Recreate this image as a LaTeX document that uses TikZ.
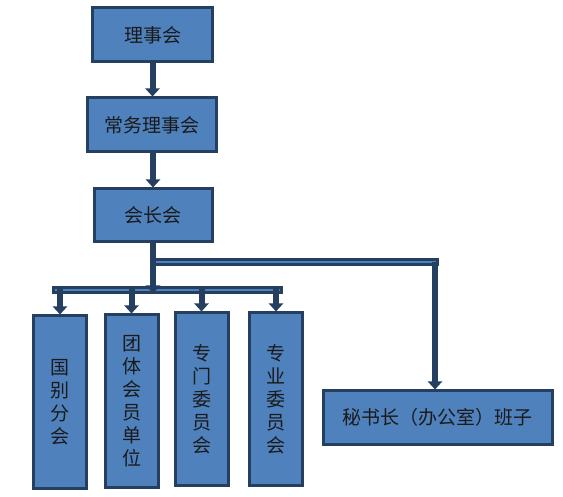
\documentclass[tikz,border=0pt]{standalone}
\usepackage{fontspec}
\newfontfamily\cjk{Noto Sans CJK SC}
\usetikzlibrary{arrows.meta}
\definecolor{boxfill}{HTML}{4F81BD}
\definecolor{boxline}{HTML}{243F60}
\definecolor{txt}{HTML}{1A1A1A}
\tikzset{
  orgbox/.style={draw=boxline, line width=3pt, fill=boxfill, inner sep=0pt,
    text=txt, font=\cjk\fontsize{19}{23}\selectfont, align=center},
  vbox/.style={orgbox, minimum width=53pt, minimum height=172pt},
  link/.style={draw=boxline, line width=6pt, -{Triangle[width=14pt,length=8pt]}},
  plain/.style={draw=boxline, line width=6pt},
  bar/.style={draw=boxline, double=boxfill, double distance=2pt, line width=3pt, line cap=rect}
}
\begin{document}
\begin{tikzpicture}[x=1pt,y=-1pt]
\useasboundingbox (0,0) rectangle (563,497);
\node[orgbox, minimum width=120pt, minimum height=54pt] (b1) at (152.5,35) {理事会};
\node[orgbox, minimum width=129pt, minimum height=54pt] (b2) at (151.5,125) {常务理事会};
\node[orgbox, minimum width=118pt, minimum height=53pt] (b3) at (153,215.5) {会长会};
\node[vbox] (c1) at (60,402) {国\\别\\分\\会};
\node[vbox] (c2) at (131.5,401) {团\\体\\会\\员\\单\\位};
\node[vbox] (c3) at (201.5,399) {专\\门\\委\\员\\会};
\node[vbox] (c4) at (276,399) {专\\业\\委\\员\\会};
\node[orgbox, minimum width=229pt, minimum height=53pt] (sec) at (437.5,417.5) {秘书长（办公室）班子};
\coordinate (barL) at (56,290);
\coordinate (barR) at (279,290);
\coordinate (tbL) at (155,262);
\coordinate (tbR) at (435,262);
\path[link] (b1.south) -- (b1.south |- b2.north);
\path[link] (b3.north |- b2.south) -- (b3.north);
\path[bar] (barL) -- (barR);
\path[bar] (tbL) -- (tbR);
\path[link] (b3.south) -- ([yshift=-3.5pt]b3.south |- barL);
\path[plain] (tbR) -- ++(0,10);
\path[link] (tbR) -- (tbR |- sec.north);
\path[link] ([yshift=3pt]c1.north |- barL) -- (c1.north);
\path[link] ([yshift=3pt]c2.north |- barL) -- (c2.north);
\path[link] ([yshift=3pt]c3.north |- barL) -- (c3.north);
\path[link] ([yshift=3pt]c4.north |- barL) -- (c4.north);
\end{tikzpicture}
\end{document}
